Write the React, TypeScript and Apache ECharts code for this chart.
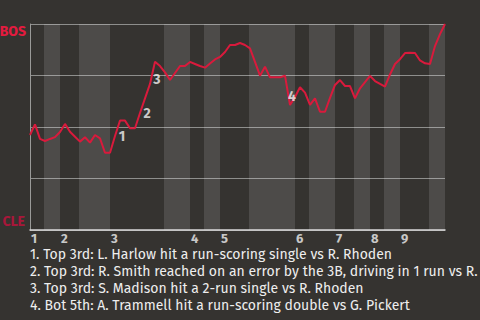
import { useEffect, useRef } from 'react';
import * as echarts from 'echarts';

// ---- data ----
const winProb = [
  46.1, 51.3, 44.2, 43.2, 44.2, 45.1, 47.6, 51.5, 47.7, 45.3,
  42.9, 45.0, 42.4, 46.1, 44.5, 37.5, 37.5, 45.6, 53.1, 53.1,
  49.4, 49.4, 56.8, 63.9, 70.9, 81.7, 79.6, 76.5, 72.8, 76.2,
  79.6, 79.6, 81.6, 80.6, 79.6, 78.8, 80.8, 82.8, 84.0, 86.4,
  89.8, 89.8, 90.8, 89.8, 88.2, 81.6, 74.9, 79.3, 74.1, 74.1,
  74.1, 74.9, 60.7, 64.6, 69.3, 66.7, 60.7, 63.9, 57.4, 57.4,
  64.1, 70.4, 72.8, 69.9, 69.9, 63.9, 68.8, 71.8, 74.8, 72.3,
  70.9, 69.6, 75.5, 80.6, 82.9, 85.9, 86.1, 85.9, 82.3, 80.9,
  80.6, 89.3, 95.1, 100,
];
const inningLabels = ['1', '2', '3', '4', '5', '6', '7', '8', '9'];
const inningStart = [0, 6, 16, 32, 38, 53, 61, 68, 74];
const topHalfEnd = [2.8, 9.8, 26.8, 34.8, 43.8, 55.8, 64.8, 70.8, 79.8];
const lastEvent = 83;
const awayTeam = 'BOS';
const homeTeam = 'CLE';
const annotationIndex = [18, 23, 25, 52];
const annotationNotes = [
  '1. Top 3rd: L. Harlow hit a run-scoring single vs R. Rhoden',
  '2. Top 3rd: R. Smith reached on an error by the 3B, driving in 1 run vs R.',
  '3. Top 3rd: S. Madison hit a 2-run single vs R. Rhoden',
  '4. Bot 5th: A. Trammell hit a run-scoring double vs G. Pickert',
];

// ---- styles ----
const BG = '#353330';
const LINE = '#d91a3c';
const FONT = "'Fira Sans', Roboto, 'Noto Sans', sans-serif";
const annotationOffsets = [
  [2, 16],
  [2, 15],
  [2, 18],
  [2, -8],
];

export default function App() {
  const ref = useRef<HTMLDivElement>(null);
  useEffect(() => {
    document.body.style.margin = '0';
    if (!ref.current) return;
    const chart = echarts.init(ref.current, undefined, { renderer: 'svg' });

    const bottomHalves = topHalfEnd.map((s, i) => [
      { xAxis: s },
      { xAxis: i + 1 < inningStart.length ? inningStart[i + 1] : lastEvent },
    ]);

    chart.setOption({
      animation: false,
      backgroundColor: BG,
      grid: { left: 30, right: 35, top: 24, bottom: 90 },
      xAxis: {
        type: 'value',
        min: 0,
        max: lastEvent,
        axisLine: { show: true, lineStyle: { color: '#d8d8d8', width: 1.5 } },
        axisTick: { show: false },
        axisLabel: { show: false },
        splitLine: { show: false },
      },
      yAxis: {
        type: 'value',
        min: 0,
        max: 100,
        interval: 25,
        axisLine: { show: true, lineStyle: { color: '#9a9a98' } },
        axisTick: { show: false },
        axisLabel: { show: false },
        splitLine: { show: true, lineStyle: { color: '#8e8e8c', width: 1 } },
      },
      graphic: [
        {
          type: 'text',
          x: 26,
          y: 31,
          style: {
            text: awayTeam,
            fill: '#e41b3f',
            font: `bold 14px ${FONT}`,
            textAlign: 'right',
            textVerticalAlign: 'middle',
          },
        },
        {
          type: 'text',
          x: 25,
          y: 221,
          style: {
            text: homeTeam,
            fill: '#a8173a',
            font: `bold 14px ${FONT}`,
            textAlign: 'right',
            textVerticalAlign: 'middle',
          },
        },
        {
          type: 'text',
          x: 30,
          y: 245.5,
          style: {
            text: annotationNotes.join('\n'),
            fill: '#eeeeee',
            font: `14px ${FONT}`,
            lineHeight: 17,
            textVerticalAlign: 'top',
          },
        },
      ],
      series: [
        {
          type: 'line',
          data: winProb.map((v, i) => [i, v]),
          symbol: 'none',
          lineStyle: { color: LINE, width: 2 },
          z: 3,
          markArea: {
            silent: true,
            itemStyle: { color: 'rgba(255,255,255,0.12)' },
            data: bottomHalves,
          },
        },
        {
          type: 'scatter',
          symbolSize: 0,
          clip: false,
          z: 4,
          data: inningStart.map((s, i) => ({ value: [s, 0], name: inningLabels[i] })),
          label: {
            show: true,
            position: 'bottom',
            distance: 2,
            align: 'left',
            offset: [1, 0],
            formatter: (p: any) => p.name,
            color: '#f2f2f2',
            fontWeight: 'bold',
            fontSize: 13,
            fontFamily: FONT,
          },
        },
        {
          type: 'scatter',
          symbolSize: 0,
          clip: false,
          z: 5,
          data: annotationIndex.map((idx, i) => ({
            value: [idx, winProb[idx]],
            name: String(i + 1),
            label: { offset: annotationOffsets[i] },
          })),
          label: {
            show: true,
            position: 'inside',
            formatter: (p: any) => p.name,
            color: '#f4f4f4',
            fontWeight: 'bold',
            fontSize: 14,
            fontFamily: FONT,
          },
        },
      ],
    });
    return () => chart.dispose();
  }, []);
  return <div ref={ref} style={{ width: 480, height: 320, background: BG }} />;
}
